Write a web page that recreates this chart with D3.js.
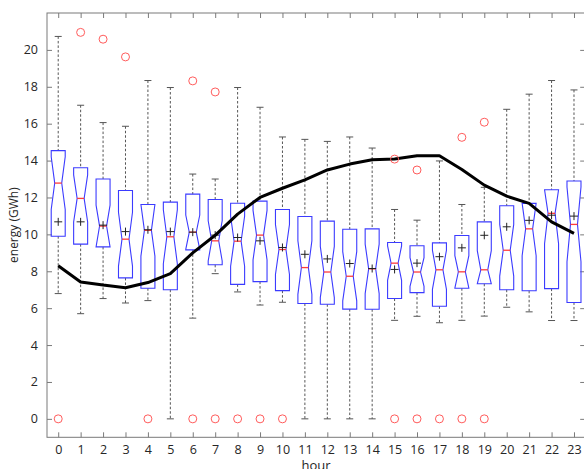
<!DOCTYPE html>
<html>
<head>
<meta charset="utf-8">
<script src="https://cdn.jsdelivr.net/npm/d3@7"></script>
<style>
  html, body { margin: 0; padding: 0; background: #fff; }
  svg { display: block; font-family: "Open Sans", "Noto Sans", sans-serif; }
</style>
</head>
<body>
<svg id="chart" width="584" height="469"></svg>
<script>
// ---- data ----
const hours = d3.range(0, 24);
const whiskerHi = [20.73, 17.0, 16.06, 15.86, 18.34, 17.96, 13.27, 13.0, 17.96, 16.89, 15.28, 15.15,
                   15.04, 15.28, 14.68, 11.35, 10.77, 13.98, 11.62, 12.55, 16.78, 17.6, 18.34, 17.83];
const q3 = [14.54, 13.61, 13.0, 12.38, 11.62, 11.75, 12.18, 11.89, 11.69, 11.8, 11.35, 10.97,
            10.72, 10.28, 10.3, 9.56, 9.38, 9.54, 9.94, 10.68, 11.55, 11.68, 12.42, 12.89];
const medians = [12.78, 11.95, 10.45, 9.74, 10.22, 9.87, 10.12, 9.65, 9.63, 9.96, 9.18, 8.2,
                 7.96, 7.73, 8.13, 8.44, 7.96, 8.08, 7.97, 8.08, 9.14, 10.3, 11.14, 10.54];
const q1 = [9.9, 9.47, 9.32, 7.64, 7.08, 7.0, 9.16, 8.35, 7.29, 7.44, 6.95, 6.25,
            6.21, 5.95, 5.94, 6.52, 6.84, 6.1, 7.08, 7.32, 7.0, 6.94, 7.06, 6.31];
const whiskerLo = [6.79, 5.70, 6.52, 6.28, 6.41, 0, 5.46, 7.87, 6.88, 6.17, 6.32, 0,
                   0, 0, 0, 5.34, 5.56, 5.21, 5.34, 5.57, 6.05, 5.8, 5.33, 5.33];
const means = [10.68, 10.68, 10.5, 10.15, 10.25, 10.15, 10.12, 9.96, 9.83, 9.65, 9.29, 8.92,
               8.67, 8.42, 8.15, 8.1, 8.44, 8.79, 9.27, 9.95, 10.41, 10.76, 11.04, 10.99];
const outliers = [[0], [20.95], [20.58], [19.62], [0], [], [18.32, 0], [17.72, 0], [0], [0], [0], [],
                  [], [], [], [14.08, 0], [13.49, 0], [0], [15.26, 0], [16.08, 0], [], [], [], []];
const lineValues = [8.3, 7.42, 7.25, 7.11, 7.39, 7.87, 9.0, 9.95, 11.1, 12.0, 12.5, 12.95,
                    13.49, 13.81, 14.05, 14.08, 14.26, 14.26, 13.52, 12.67, 12.07, 11.68, 10.68, 10.05];
const samplesPerBox = 26;   // observations per hour (for notch size)
const yTicks = [0, 2, 4, 6, 8, 10, 12, 14, 16, 18, 20];

// ---- layout ----
const svg = d3.select("#chart");
const pL = 47, pR = 585.2, pT = 13, pB = 437.3;
const x = d3.scaleLinear().domain([-0.5, 23.5]).range([pL, pR]);
const y = d3.scaleLinear().domain([-1, 22]).range([pB, pT]);

const axisColor = "#7a7a7a";
const boxColor = "#3b3bff";
const halfW = 7;

// frame
svg.append("rect").attr("x", pL).attr("y", pT)
  .attr("width", pR - pL).attr("height", pB - pT)
  .attr("fill", "none").attr("stroke", axisColor).attr("stroke-width", 1);

// axes (ticks inward)
const gx = svg.append("g").attr("transform", `translate(0,${pB})`)
  .call(d3.axisBottom(x).tickValues(hours).tickFormat(d3.format("d")).tickSizeInner(-5).tickSizeOuter(0).tickPadding(8));
const gxTop = svg.append("g").attr("transform", `translate(0,${pT})`)
  .call(d3.axisTop(x).tickValues(hours).tickFormat("").tickSizeInner(-5).tickSizeOuter(0));
const gy = svg.append("g").attr("transform", `translate(${pL},0)`)
  .call(d3.axisLeft(y).tickValues(yTicks).tickFormat(d3.format("d")).tickSizeInner(-5).tickSizeOuter(0).tickPadding(9));
const gyR = svg.append("g").attr("transform", `translate(${pR},0)`)
  .call(d3.axisRight(y).tickValues(yTicks).tickFormat("").tickSizeInner(-5).tickSizeOuter(0));
[gx, gxTop, gy, gyR].forEach(g => {
  g.select(".domain").remove();
  g.selectAll(".tick line").attr("stroke", axisColor);
  g.selectAll(".tick text").attr("fill", "#262626").style("font-size", "12.5px")
    .style("font-family", "'Open Sans', sans-serif");
});

// axis titles
svg.append("text").attr("x", (pL + pR) / 2).attr("y", 470)
  .attr("text-anchor", "middle").attr("fill", "#262626").style("font-size", "13px").text("hour");
svg.append("text").attr("transform", `translate(18,${(pT + pB) / 2}) rotate(-90)`)
  .attr("text-anchor", "middle").attr("fill", "#262626").style("font-size", "12px").text("energy (GWh)");

// ---- boxes ----
const boxes = hours.map((h, i) => {
  const iqr = q3[i] - q1[i];
  const n = 1.57 * iqr / Math.sqrt(samplesPerBox);
  return { h, hi: whiskerHi[i], q3: q3[i], med: medians[i], q1: q1[i], lo: whiskerLo[i],
           mean: means[i], nHi: Math.min(q3[i], medians[i] + n), nLo: Math.max(q1[i], medians[i] - n),
           out: outliers[i] };
});

const g = svg.append("g");
const bg = g.selectAll("g.box").data(boxes).enter().append("g").attr("class", "box");

// whiskers
bg.append("line").attr("x1", d => x(d.h)).attr("x2", d => x(d.h))
  .attr("y1", d => y(d.hi)).attr("y2", d => y(d.q3))
  .attr("stroke", "#555").attr("stroke-width", 1).attr("stroke-dasharray", "2.5,2");
bg.append("line").attr("x1", d => x(d.h)).attr("x2", d => x(d.h))
  .attr("y1", d => y(d.q1)).attr("y2", d => y(d.lo))
  .attr("stroke", "#555").attr("stroke-width", 1).attr("stroke-dasharray", "2.5,2");
// caps
bg.append("line").attr("x1", d => x(d.h) - 3.5).attr("x2", d => x(d.h) + 3.5)
  .attr("y1", d => y(d.hi)).attr("y2", d => y(d.hi)).attr("stroke", "#555");
bg.append("line").attr("x1", d => x(d.h) - 3.5).attr("x2", d => x(d.h) + 3.5)
  .attr("y1", d => y(d.lo)).attr("y2", d => y(d.lo)).attr("stroke", "#555");

// notched box
bg.append("path").attr("fill", "none").attr("stroke", boxColor).attr("stroke-width", 1.1)
  .attr("d", d => {
    const cx = x(d.h), inset = halfW / 2;
    const pts = [
      [cx - halfW, y(d.q3)], [cx + halfW, y(d.q3)],
      [cx + halfW, y(d.nHi)], [cx + halfW - inset, y(d.med)], [cx + halfW, y(d.nLo)],
      [cx + halfW, y(d.q1)], [cx - halfW, y(d.q1)],
      [cx - halfW, y(d.nLo)], [cx - halfW + inset, y(d.med)], [cx - halfW, y(d.nHi)]
    ];
    return d3.line()(pts) + "Z";
  });
// median
bg.append("line").attr("x1", d => x(d.h) - halfW / 2).attr("x2", d => x(d.h) + halfW / 2)
  .attr("y1", d => y(d.med)).attr("y2", d => y(d.med))
  .attr("stroke", "#ff3b3b").attr("stroke-width", 1.3);
// mean "+"
bg.append("path").attr("stroke", "#222").attr("stroke-width", 1).attr("fill", "none")
  .attr("d", d => {
    const cx = x(d.h), cy = y(d.mean), s = 4;
    return `M${cx - s},${cy}H${cx + s}M${cx},${cy - s}V${cy + s}`;
  });

// ---- line ----
svg.append("path").datum(lineValues)
  .attr("fill", "none").attr("stroke", "#000").attr("stroke-width", 3).attr("stroke-linejoin", "round")
  .attr("d", d3.line().x((d, i) => x(hours[i])).y(d => y(d)));

// ---- outliers ----
const outPts = boxes.flatMap(b => b.out.map(v => ({ h: b.h, v })));
svg.append("g").selectAll("circle").data(outPts).enter().append("circle")
  .attr("cx", d => x(d.h)).attr("cy", d => y(d.v)).attr("r", 4)
  .attr("fill", "none").attr("stroke", "#ff5c5c").attr("stroke-width", 1);
</script>
</body>
</html>
